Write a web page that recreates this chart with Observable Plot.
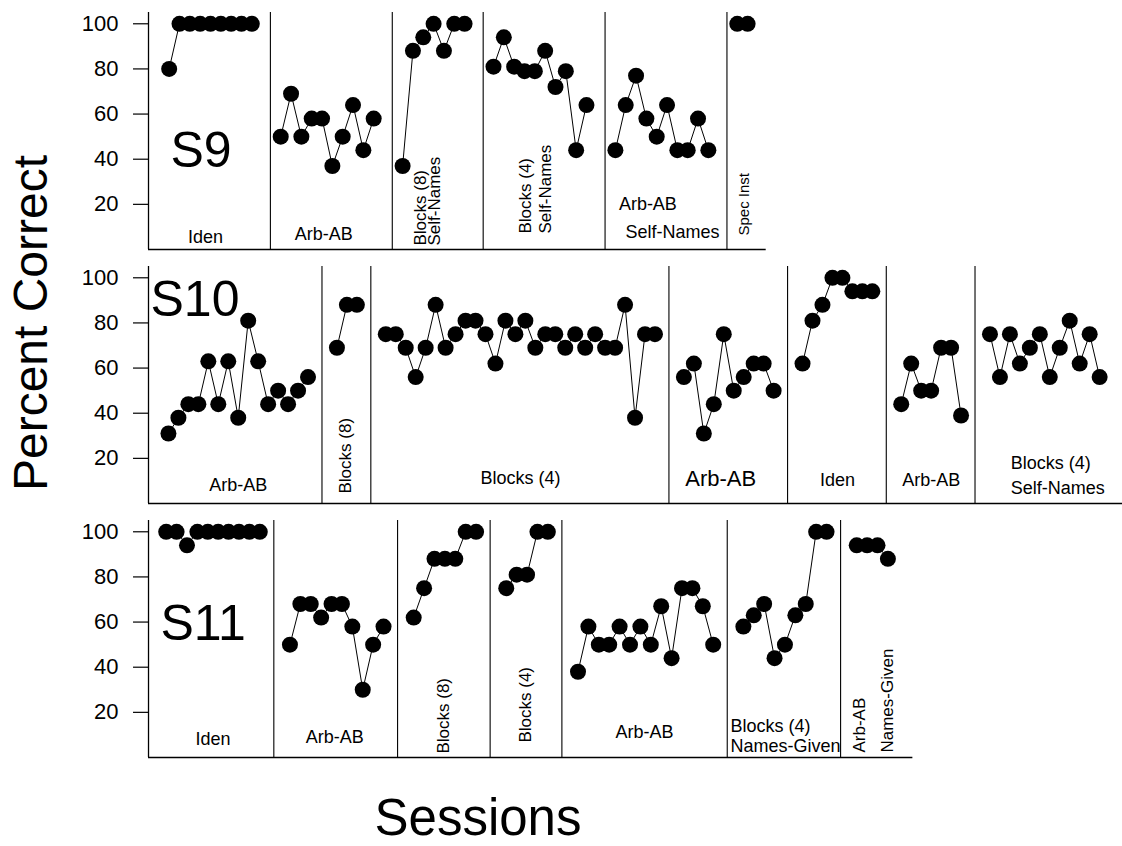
<!DOCTYPE html>
<html>
<head>
<meta charset="utf-8">
<script src="https://cdn.jsdelivr.net/npm/d3@7"></script>
<script src="https://cdn.jsdelivr.net/npm/@observablehq/plot@0.6"></script>
<style>
  html, body { margin: 0; padding: 0; background: #fff; }
  #chart { position: relative; width: 1122px; height: 846px; overflow: hidden;
           font-family: "Liberation Sans", Arial, sans-serif; color: #000; }
  .panel { position: absolute; left: 0; }
  #ylab { position: absolute; left: 31px; top: 323px; font-size: 48px; line-height: 1;
          white-space: nowrap; transform: translate(-50%, -50%) rotate(-90deg); }
  #xlab { position: absolute; left: 478px; top: 792px; font-size: 51px; line-height: 1;
          white-space: nowrap; transform: translateX(-50%); }
</style>
</head>
<body>
<div id="chart"></div>
<script>
// ---------------- DATA ----------------
const yTicks = [20, 40, 60, 80, 100];
const yTitle = "Percent Correct";
const xTitle = "Sessions";

// S9
const s9Phases = ["Iden", "Arb-AB", "Blocks (8) Self-Names", "Blocks (4) Self-Names", "Arb-AB Self-Names", "Spec Inst"];
const s9Values = [
  [80, 100, 100, 100, 100, 100, 100, 100, 100],
  [50, 69, 50, 58, 58, 37, 50, 64, 44, 58],
  [37, 88, 94, 100, 88, 100, 100],
  [81, 94, 81, 79, 79, 88, 72, 79, 44, 64],
  [44, 64, 77, 58, 50, 64, 44, 44, 58, 44],
  [100, 100]
];
const s9Labels = [["Iden"], ["Arb-AB"], ["Blocks (8)\nSelf-Names"], ["Blocks (4)\nSelf-Names"], ["Arb-AB", "Self-Names"], ["Spec Inst"]];

// S10
const s10Phases = ["Arb-AB", "Blocks (8)", "Blocks (4)", "Arb-AB", "Iden", "Arb-AB", "Blocks (4) Self-Names"];
const s10Values = [
  [31, 38, 44, 44, 63, 44, 63, 38, 81, 63, 44, 50, 44, 50, 56],
  [69, 88, 88],
  [75, 75, 69, 56, 69, 88, 69, 75, 81, 81, 75, 62, 81, 75, 81, 69, 75, 75, 69, 75, 69, 75, 69, 69, 88, 38, 75, 75],
  [56, 62, 31, 44, 75, 50, 56, 62, 62, 50],
  [62, 81, 88, 100, 100, 94, 94, 94],
  [44, 62, 50, 50, 69, 69, 39],
  [75, 56, 75, 62, 69, 75, 56, 69, 81, 62, 75, 56]
];
const s10Labels = [["Arb-AB"], ["Blocks (8)"], ["Blocks (4)"], ["Arb-AB"], ["Iden"], ["Arb-AB"], ["Blocks (4)", "Self-Names"]];

// S11
const s11Phases = ["Iden", "Arb-AB", "Blocks (8)", "Blocks (4)", "Arb-AB", "Blocks (4) Names-Given", "Arb-AB Names-Given"];
const s11Values = [
  [100, 100, 94, 100, 100, 100, 100, 100, 100, 100],
  [50, 68, 68, 62, 68, 68, 58, 30, 50, 58],
  [62, 75, 88, 88, 88, 100, 100],
  [75, 81, 81, 100, 100],
  [38, 58, 50, 50, 58, 50, 58, 50, 67, 44, 75, 75, 67, 50],
  [58, 63, 68, 44, 50, 63, 68, 100, 100],
  [94, 94, 94, 88]
];
const s11Labels = [["Iden"], ["Arb-AB"], ["Blocks (8)"], ["Blocks (4)"], ["Arb-AB"], ["Blocks (4)", "Names-Given"], ["Arb-AB\nNames-Given"]];

// ---------------- LAYOUT / STYLE ----------------
const FONT = '"Liberation Sans", Arial, sans-serif';
const ML = 148, PH = 254, MT = 12, MB = 5, BASE = PH - MB;
const panels = [
  {name: "S9", phases: s9Phases, values: s9Values, labels: s9Labels,
   top: 0, u: 10.33, lead: 2, gb: 1.8, ga: 1.0, trail: 1.8, nameDx: 22, nameBase: 167,
   ls: [
     [{dx: -5, base: 243}],
     [{dx: -3.5, base: 240}],
     [{rot: true, dx: -5, base: 245, lh: 0.82}],
     [{rot: true, dx: -5, base: 233, lh: 1.18}],
     [{dx: -14, base: 210}, {dx: 10.6, base: 238}],
     [{rot: true, dx: 1.6, base: 235, fs: 15}]
   ]},
  {name: "S10", phases: s10Phases, values: s10Values, labels: s10Labels,
   top: 254, u: 9.97, lead: 2, gb: 1.4, ga: 1.5, trail: 2.5, nameDx: 2, nameBase: 61,
   ls: [
     [{dx: 0, base: 236}],
     [{rot: true, dx: -1, base: 239}],
     [{dx: 0, base: 229}],
     [{dx: -8, base: 231, fs: 22}],
     [{dx: 0, base: 231}],
     [{dx: 0, base: 231}],
     [{dx: -34, base: 214, anchor: "start"}, {dx: -34, base: 239, anchor: "start"}]
   ]},
  {name: "S11", phases: s11Phases, values: s11Values, labels: s11Labels,
   top: 508, u: 10.4, lead: 1.7, gb: 1.35, ga: 1.55, trail: 2.4, nameDx: 12, nameBase: 132,
   ls: [
     [{dx: 0, base: 237}],
     [{dx: -2, base: 235}],
     [{rot: true, dx: -1, base: 245}],
     [{rot: true, dx: -2, base: 234}],
     [{dx: -1, base: 230}],
     [{dx: -54.5, base: 224, anchor: "start"}, {dx: -54.5, base: 244, anchor: "start"}],
     [{rot: true, dx: -2, base: 244, lh: 1.6}]
   ]}
];

const chart = document.getElementById("chart");

function drawPanel(p) {
  const pts = [], divs = [], centers = [];
  let pos = p.lead;
  p.values.forEach((vals, k) => {
    if (k > 0) { const d = pos - 1 + p.gb; divs.push(d); pos = d + p.ga; }
    const start = pos;
    vals.forEach(v => { pts.push({seg: k, phase: p.phases[k], pos, v}); pos += 1; });
    centers.push((start + pos - 1) / 2);
  });
  const last = pos - 1;
  const W = Math.min(1122, ML + (last + p.trail) * p.u);
  const end = (W - ML) / p.u;

  const labelMarks = [];
  p.labels.forEach((lines, k) => {
    lines.forEach((txt, j) => {
      const s = p.ls[k][j];
      labelMarks.push(Plot.text([{x: centers[k], t: txt}], {
        x: "x", text: "t", frameAnchor: "bottom",
        dx: s.dx, dy: s.base - BASE,
        rotate: s.rot ? -90 : 0,
        textAnchor: s.rot ? "start" : (s.anchor || "middle"),
        lineAnchor: s.rot ? "middle" : "bottom",
        lineHeight: s.lh || 1,
        fontSize: s.fs || (s.rot ? 17 : 18),
        fill: "black"
      }));
    });
  });

  const svg = Plot.plot({
    width: W, height: PH,
    marginLeft: ML, marginRight: 0, marginTop: MT, marginBottom: MB,
    style: {fontFamily: FONT, background: "white", overflow: "visible", color: "black"},
    x: {domain: [0, end], axis: null},
    y: {domain: [0, 105]},
    marks: [
      Plot.axisY({ticks: yTicks, tickSize: 15, tickPadding: 15, fontSize: 22, label: null,
                  tickFormat: d => String(d), stroke: "black", strokeWidth: 1.2}),
      Plot.ruleX([0], {stroke: "black", strokeWidth: 1.3}),
      Plot.ruleY([0], {stroke: "black", strokeWidth: 1.3}),
      Plot.ruleX(divs, {stroke: "black", strokeWidth: 1.1}),
      Plot.line(pts, {x: "pos", y: "v", z: "seg", stroke: "black", strokeWidth: 1}),
      Plot.dot(pts, {x: "pos", y: "v", r: 8, fill: "black", stroke: "none"}),
      Plot.text([p.name], {frameAnchor: "top-left", textAnchor: "start", lineAnchor: "bottom",
                           dx: p.nameDx, dy: p.nameBase - MT, fontSize: 50, fill: "black"}),
      ...labelMarks
    ]
  });
  const wrap = document.createElement("div");
  wrap.className = "panel";
  wrap.style.top = p.top + "px";
  wrap.appendChild(svg);
  chart.appendChild(wrap);
}

panels.forEach(drawPanel);

const yl = document.createElement("div");
yl.id = "ylab"; yl.textContent = yTitle;
chart.appendChild(yl);
const xl = document.createElement("div");
xl.id = "xlab"; xl.textContent = xTitle;
chart.appendChild(xl);
</script>
</body>
</html>
